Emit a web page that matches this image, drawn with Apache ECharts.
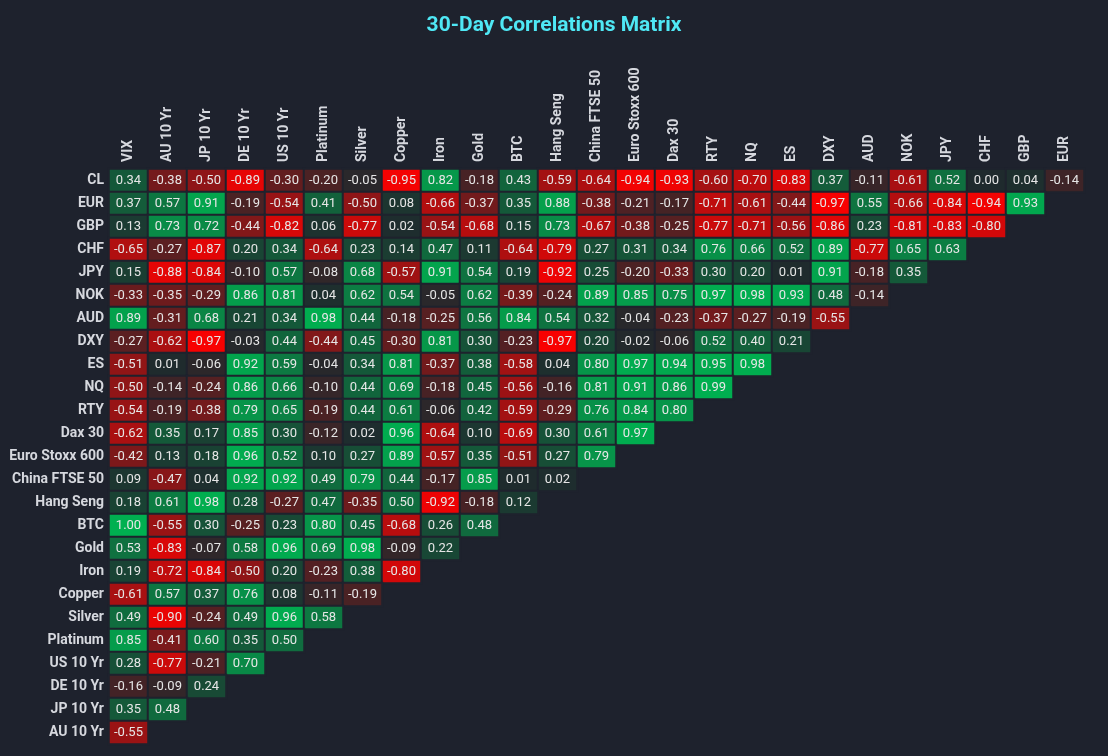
<!DOCTYPE html>
<html>
<head>
<meta charset="utf-8">
<title>30-Day Correlations Matrix</title>
<script src="https://cdn.jsdelivr.net/npm/echarts@6/dist/echarts.min.js"></script>
<style>
  html, body { margin: 0; padding: 0; background: #1e222d; }
  #chart { width: 1108px; height: 756px; }
</style>
</head>
<body>
<div id="chart"></div>
<script>
// row labels, top to bottom
const rowNames = ['CL', 'EUR', 'GBP', 'CHF', 'JPY', 'NOK', 'AUD', 'DXY', 'ES', 'NQ', 'RTY',
    'Dax 30', 'Euro Stoxx 600', 'China FTSE 50', 'Hang Seng', 'BTC', 'Gold', 'Iron',
    'Copper', 'Silver', 'Platinum', 'US 10 Yr', 'DE 10 Yr', 'JP 10 Yr', 'AU 10 Yr'];

// column labels, left to right
const colNames = ['VIX', 'AU 10 Yr', 'JP 10 Yr', 'DE 10 Yr', 'US 10 Yr', 'Platinum', 'Silver',
    'Copper', 'Iron', 'Gold', 'BTC', 'Hang Seng', 'China FTSE 50', 'Euro Stoxx 600', 'Dax 30',
    'RTY', 'NQ', 'ES', 'DXY', 'AUD', 'NOK', 'JPY', 'CHF', 'GBP', 'EUR'];

// correlation values per row (lower-left triangle, starting at VIX)
const corrCL = [0.34, -0.38, -0.50, -0.89, -0.30, -0.20, -0.05, -0.95, 0.82, -0.18, 0.43, -0.59, -0.64, -0.94, -0.93, -0.60, -0.70, -0.83, 0.37, -0.11, -0.61, 0.52, 0.00, 0.04, -0.14];
const corrEUR = [0.37, 0.57, 0.91, -0.19, -0.54, 0.41, -0.50, 0.08, -0.66, -0.37, 0.35, 0.88, -0.38, -0.21, -0.17, -0.71, -0.61, -0.44, -0.97, 0.55, -0.66, -0.84, -0.94, 0.93];
const corrGBP = [0.13, 0.73, 0.72, -0.44, -0.82, 0.06, -0.77, 0.02, -0.54, -0.68, 0.15, 0.73, -0.67, -0.38, -0.25, -0.77, -0.71, -0.56, -0.86, 0.23, -0.81, -0.83, -0.80];
const corrCHF = [-0.65, -0.27, -0.87, 0.20, 0.34, -0.64, 0.23, 0.14, 0.47, 0.11, -0.64, -0.79, 0.27, 0.31, 0.34, 0.76, 0.66, 0.52, 0.89, -0.77, 0.65, 0.63];
const corrJPY = [0.15, -0.88, -0.84, -0.10, 0.57, -0.08, 0.68, -0.57, 0.91, 0.54, 0.19, -0.92, 0.25, -0.20, -0.33, 0.30, 0.20, 0.01, 0.91, -0.18, 0.35];
const corrNOK = [-0.33, -0.35, -0.29, 0.86, 0.81, 0.04, 0.62, 0.54, -0.05, 0.62, -0.39, -0.24, 0.89, 0.85, 0.75, 0.97, 0.98, 0.93, 0.48, -0.14];
const corrAUD = [0.89, -0.31, 0.68, 0.21, 0.34, 0.98, 0.44, -0.18, -0.25, 0.56, 0.84, 0.54, 0.32, -0.04, -0.23, -0.37, -0.27, -0.19, -0.55];
const corrDXY = [-0.27, -0.62, -0.97, -0.03, 0.44, -0.44, 0.45, -0.30, 0.81, 0.30, -0.23, -0.97, 0.20, -0.02, -0.06, 0.52, 0.40, 0.21];
const corrES = [-0.51, 0.01, -0.06, 0.92, 0.59, -0.04, 0.34, 0.81, -0.37, 0.38, -0.58, 0.04, 0.80, 0.97, 0.94, 0.95, 0.98];
const corrNQ = [-0.50, -0.14, -0.24, 0.86, 0.66, -0.10, 0.44, 0.69, -0.18, 0.45, -0.56, -0.16, 0.81, 0.91, 0.86, 0.99];
const corrRTY = [-0.54, -0.19, -0.38, 0.79, 0.65, -0.19, 0.44, 0.61, -0.06, 0.42, -0.59, -0.29, 0.76, 0.84, 0.80];
const corrDax = [-0.62, 0.35, 0.17, 0.85, 0.30, -0.12, 0.02, 0.96, -0.64, 0.10, -0.69, 0.30, 0.61, 0.97];
const corrStoxx = [-0.42, 0.13, 0.18, 0.96, 0.52, 0.10, 0.27, 0.89, -0.57, 0.35, -0.51, 0.27, 0.79];
const corrChina = [0.09, -0.47, 0.04, 0.92, 0.92, 0.49, 0.79, 0.44, -0.17, 0.85, 0.01, 0.02];
const corrHangSeng = [0.18, 0.61, 0.98, 0.28, -0.27, 0.47, -0.35, 0.50, -0.92, -0.18, 0.12];
const corrBTC = [1.00, -0.55, 0.30, -0.25, 0.23, 0.80, 0.45, -0.68, 0.26, 0.48];
const corrGold = [0.53, -0.83, -0.07, 0.58, 0.96, 0.69, 0.98, -0.09, 0.22];
const corrIron = [0.19, -0.72, -0.84, -0.50, 0.20, -0.23, 0.38, -0.80];
const corrCopper = [-0.61, 0.57, 0.37, 0.76, 0.08, -0.11, -0.19];
const corrSilver = [0.49, -0.90, -0.24, 0.49, 0.96, 0.58];
const corrPlatinum = [0.85, -0.41, 0.60, 0.35, 0.50];
const corrUS10 = [0.28, -0.77, -0.21, 0.70];
const corrDE10 = [-0.16, -0.09, 0.24];
const corrJP10 = [0.35, 0.48];
const corrAU10 = [-0.55];

const rowsValues = [corrCL, corrEUR, corrGBP, corrCHF, corrJPY, corrNOK, corrAUD, corrDXY,
    corrES, corrNQ, corrRTY, corrDax, corrStoxx, corrChina, corrHangSeng, corrBTC, corrGold,
    corrIron, corrCopper, corrSilver, corrPlatinum, corrUS10, corrDE10, corrJP10, corrAU10];

// heatmap wants [x, y, value]
const cells = [];
rowsValues.forEach((vals, r) => {
    vals.forEach((v, c) => cells.push([c, r, v]));
});

const bg = '#1e222d';
const labelFont = 'Roboto, "Liberation Sans", sans-serif';

const chart = echarts.init(document.getElementById('chart'));
chart.setOption({
    backgroundColor: bg,
    animation: false,
    title: {
        text: '30-Day Correlations Matrix',
        left: 'center',
        top: 10,
        textStyle: {
            color: '#4fe8f5',
            fontSize: 21,
            fontWeight: 'bold',
            fontFamily: labelFont
        }
    },
    grid: {
        left: 109,
        right: 24,
        top: 169,
        bottom: 12
    },
    xAxis: {
        type: 'category',
        position: 'top',
        data: colNames,
        axisLine: { show: false },
        axisTick: { show: false },
        splitLine: { show: false },
        axisLabel: {
            rotate: -90,
            margin: 7,
            color: '#d6d8de',
            fontSize: 14,
            fontWeight: 'bold',
            fontFamily: labelFont
        }
    },
    yAxis: {
        type: 'category',
        inverse: true,
        data: rowNames,
        axisLine: { show: false },
        axisTick: { show: false },
        splitLine: { show: false },
        axisLabel: {
            margin: 5,
            color: '#d6d8de',
            fontSize: 14,
            fontWeight: 'bold',
            fontFamily: labelFont
        }
    },
    visualMap: {
        show: false,
        min: -1,
        max: 1,
        calculable: false,
        inRange: {
            color: ['#ff0000', '#1f2a2d', '#00b050']
        }
    },
    series: [{
        type: 'heatmap',
        data: cells,
        itemStyle: {
            borderColor: bg,
            borderWidth: 2
        },
        label: {
            show: true,
            color: '#e6e6e6',
            fontSize: 13,
            fontFamily: labelFont,
            formatter: p => p.value[2].toFixed(2)
        },
        emphasis: { disabled: true }
    }]
});
</script>
</body>
</html>
